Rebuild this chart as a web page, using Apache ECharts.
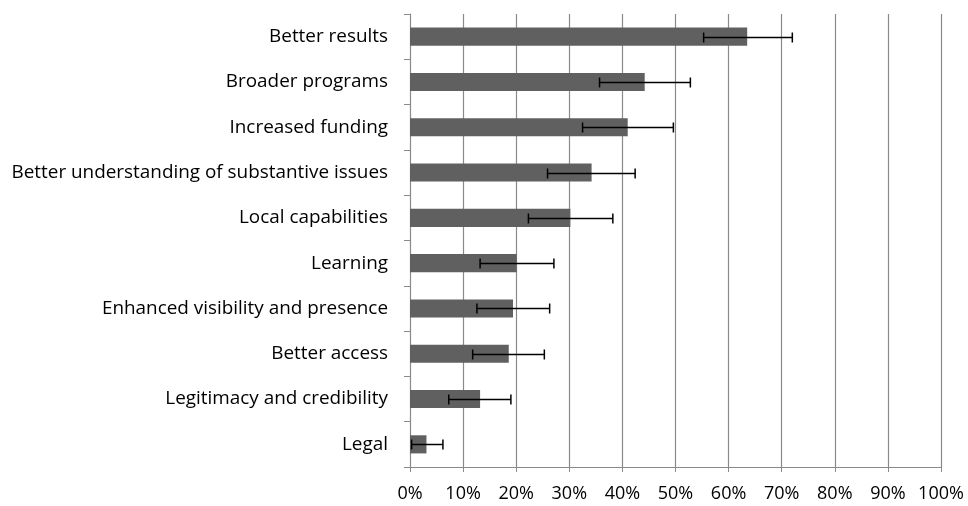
<!DOCTYPE html>
<html>
<head>
<meta charset="utf-8">
<script src="https://cdn.jsdelivr.net/npm/echarts@6/dist/echarts.min.js"></script>
<style>
  html, body { margin: 0; padding: 0; background: #fff; }
  #chart { width: 968px; height: 506px; }
</style>
</head>
<body>
<div id="chart"></div>
<script>
// Reported benefits, listed top to bottom
const categories = [
  'Better results',
  'Broader programs',
  'Increased funding',
  'Better understanding of substantive issues',
  'Local capabilities',
  'Learning',
  'Enhanced visibility and presence',
  'Better access',
  'Legitimacy and credibility',
  'Legal'
];
// Share of respondents (%)
const shares = [63.5, 44.2, 41.0, 34.2, 30.2, 20.1, 19.4, 18.6, 13.2, 3.1];
// Error bar bounds (%)
const lowerBounds = [55.3, 35.7, 32.5, 25.9, 22.3, 13.2, 12.6, 11.8, 7.3, 0.3];
const upperBounds = [72.0, 52.8, 49.6, 42.4, 38.2, 27.1, 26.3, 25.3, 19.0, 6.2];
const tickValues = [0, 10, 20, 30, 40, 50, 60, 70, 80, 90, 100];

const font = 'Open Sans';
const errorData = categories.map((c, i) => [i, lowerBounds[i], upperBounds[i]]);

const chart = echarts.init(document.getElementById('chart'), null, { renderer: 'canvas' });
chart.setOption({
  animation: false,
  backgroundColor: '#ffffff',
  grid: { left: 410, right: 27, top: 14, bottom: 39, containLabel: false },
  xAxis: {
    type: 'value',
    min: tickValues[0],
    max: tickValues[tickValues.length - 1],
    interval: 10,
    axisLine: { show: true, lineStyle: { color: '#8a8a8a', width: 1 } },
    axisTick: { show: true, length: 5, lineStyle: { color: '#8a8a8a' } },
    splitLine: { show: true, lineStyle: { color: '#8a8a8a', width: 1.2 } },
    axisLabel: {
      formatter: v => v + '%',
      color: '#000',
      fontFamily: font,
      fontSize: 18,
      margin: 18
    }
  },
  yAxis: {
    type: 'category',
    data: categories,
    inverse: true,
    axisLine: { show: true, lineStyle: { color: '#8a8a8a', width: 1 } },
    axisTick: { show: true, length: 6, alignWithLabel: false, lineStyle: { color: '#8a8a8a' } },
    splitLine: { show: false },
    axisLabel: {
      color: '#000',
      fontFamily: font,
      fontSize: 18.9,
      margin: 22
    }
  },
  series: [
    {
      type: 'bar',
      data: shares,
      barCategoryGap: '60%',
      itemStyle: { color: '#606060' },
      z: 2
    },
    {
      type: 'custom',
      data: errorData,
      z: 3,
      renderItem: function (params, api) {
        const idx = api.value(0);
        const lo = api.coord([api.value(1), idx]);
        const hi = api.coord([api.value(2), idx]);
        const y = Math.round(lo[1]) + 0.5;
        const cap = 5;
        const style = { stroke: '#000', lineWidth: 1.5 };
        return {
          type: 'group',
          children: [
            { type: 'line', shape: { x1: lo[0], y1: y, x2: hi[0], y2: y }, style: style },
            { type: 'line', shape: { x1: lo[0], y1: y - cap, x2: lo[0], y2: y + cap }, style: style },
            { type: 'line', shape: { x1: hi[0], y1: y - cap, x2: hi[0], y2: y + cap }, style: style }
          ]
        };
      }
    }
  ]
});
</script>
</body>
</html>
